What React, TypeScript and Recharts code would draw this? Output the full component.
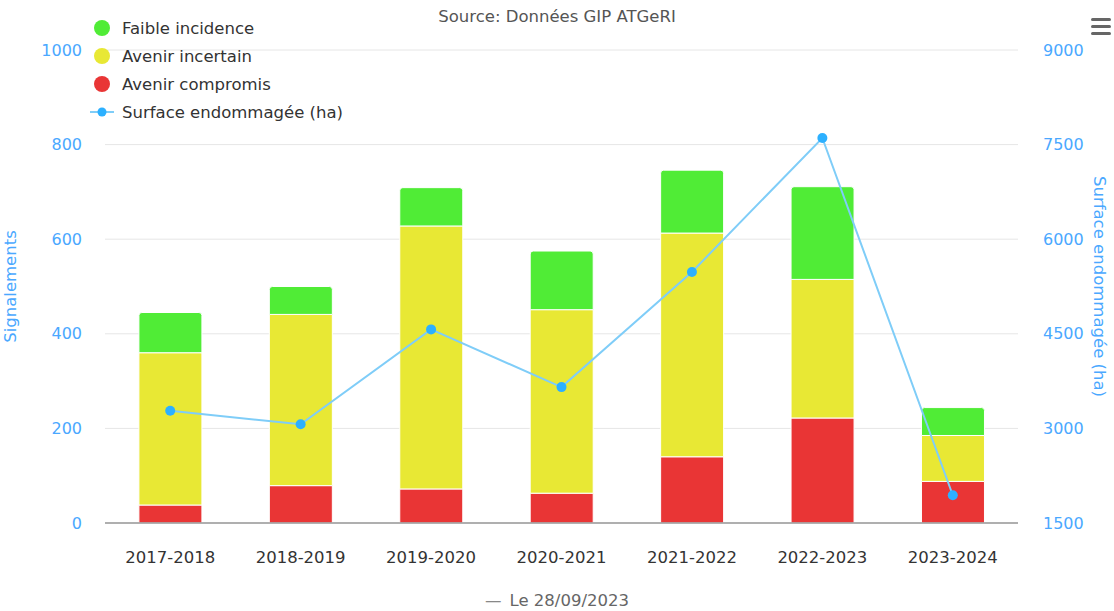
import React from 'react';
import { ComposedChart, Bar, Line, XAxis, YAxis, CartesianGrid, Legend } from 'recharts';

const categories = ['2017-2018', '2018-2019', '2019-2020', '2020-2021', '2021-2022', '2022-2023', '2023-2024'];
const compromis = [38, 79, 72, 63, 140, 222, 88];
const incertain = [322, 362, 556, 388, 473, 293, 97];
const faible = [85, 59, 81, 124, 133, 196, 59];
const surface = [3280, 3065, 4570, 3655, 5480, 7605, 1940];
const leftTicks = [0, 200, 400, 600, 800, 1000];
const rightTicks = [1500, 3000, 4500, 6000, 7500, 9000];

const title = 'Source: Données GIP ATGeRI';
const caption = 'Le 28/09/2023';

const FONT = '"DejaVu Sans", Verdana, sans-serif';
const AXIS_BLUE = '#4aa8ff';
const RED = '#e93535';
const YELLOW = '#e8e834';
const GREEN = '#50ec36';
const LINE = '#7fcdf8';
const DOT = '#2cb0ff';

const data = categories.map((c, i) => ({
  name: c,
  compromis: compromis[i],
  incertain: incertain[i],
  faible: faible[i],
  surface: surface[i],
}));

const legendItems = [
  { label: 'Faible incidence', color: GREEN, type: 'circle' },
  { label: 'Avenir incertain', color: YELLOW, type: 'circle' },
  { label: 'Avenir compromis', color: RED, type: 'circle' },
  { label: 'Surface endommagée (ha)', color: DOT, type: 'line' },
];

const renderLegend = () => (
  <div style={{ fontFamily: FONT, fontSize: 16.5, color: '#333' }}>
    {legendItems.map((it) => (
      <div key={it.label} style={{ display: 'flex', alignItems: 'center', height: 28 }}>
        <svg width={30} height={20} style={{ marginRight: 4 }}>
          {it.type === 'circle' ? (
            <circle cx={14} cy={10} r={8} fill={it.color} />
          ) : (
            <g>
              <line x1={2} y1={10} x2={26} y2={10} stroke={LINE} strokeWidth={2} />
              <circle cx={14} cy={10} r={4.5} fill={it.color} />
            </g>
          )}
        </svg>
        <span>{it.label}</span>
      </div>
    ))}
  </div>
);

export default function App() {
  return (
    <div style={{ position: 'absolute', left: 0, top: 0, width: 1114, height: 611, background: '#fff', fontFamily: FONT }}>
      <div style={{ position: 'absolute', left: 0, width: 1114, top: 7, textAlign: 'center', fontSize: 16.5, color: '#555' }}>
        {title}
      </div>
      <div style={{ position: 'absolute', left: 1091, top: 18 }}>
        {[0, 1, 2].map((k) => (
          <div key={k} style={{ width: 20, height: 3, background: '#666', borderRadius: 1.5, marginBottom: 4 }} />
        ))}
      </div>
      <div style={{ position: 'absolute', left: 0, width: 1114, top: 591, textAlign: 'center', fontSize: 16.5, color: '#666' }}>
        <span style={{ color: '#888', marginRight: 8 }}>—</span>
        {caption}
      </div>
      <ComposedChart
        width={1114}
        height={611}
        data={data}
        margin={{ top: 50, right: 0, bottom: 48, left: 0 }}
        barCategoryGap="26%"
        style={{ position: 'absolute', left: 0, top: 0 }}
      >
        <CartesianGrid yAxisId="left" vertical={false} stroke="#e6e6e6" strokeWidth={1} />
        <XAxis
          dataKey="name"
          height={40}
          tickLine={false}
          axisLine={{ stroke: '#999', strokeWidth: 1.5 }}
          tick={{ fill: '#333', fontSize: 16.5, fontFamily: FONT }}
          tickMargin={22}
        />
        <YAxis
          yAxisId="left"
          width={105}
          domain={[0, 1000]}
          ticks={leftTicks}
          interval={0}
          axisLine={false}
          tickLine={false}
          tickMargin={17}
          tick={{ fill: AXIS_BLUE, fontSize: 16, fontFamily: FONT }}
          label={{ value: 'Signalements', angle: -90, position: 'insideLeft', offset: 10, fill: AXIS_BLUE, fontSize: 16.5, fontFamily: FONT, style: { textAnchor: 'middle' } }}
        />
        <YAxis
          yAxisId="right"
          orientation="right"
          width={96}
          domain={[1500, 9000]}
          ticks={rightTicks}
          interval={0}
          axisLine={false}
          tickLine={false}
          tickMargin={19}
          tick={{ fill: AXIS_BLUE, fontSize: 16, fontFamily: FONT, textAnchor: 'start' }}
          label={{ value: 'Surface endommagée (ha)', angle: 90, position: 'insideRight', offset: 14, fill: AXIS_BLUE, fontSize: 16.5, fontFamily: FONT, style: { textAnchor: 'middle' } }}
        />
        <Legend
          layout="vertical"
          align="center"
          verticalAlign="middle"
          content={renderLegend}
          wrapperStyle={{ left: 88, top: 14, width: 'auto', height: 'auto' }}
        />
        <Bar yAxisId="left" dataKey="compromis" name="Avenir compromis" stackId="a" fill={RED} stroke="#fff" strokeWidth={1} isAnimationActive={false} />
        <Bar yAxisId="left" dataKey="incertain" name="Avenir incertain" stackId="a" fill={YELLOW} stroke="#fff" strokeWidth={1} isAnimationActive={false} />
        <Bar yAxisId="left" dataKey="faible" name="Faible incidence" stackId="a" fill={GREEN} stroke="#fff" strokeWidth={1} radius={[3, 3, 0, 0]} isAnimationActive={false} />
        <Line
          yAxisId="right"
          dataKey="surface"
          name="Surface endommagée (ha)"
          type="linear"
          stroke={LINE}
          strokeWidth={2}
          dot={{ r: 5, fill: DOT, stroke: DOT, strokeWidth: 0 }}
          activeDot={false}
          isAnimationActive={false}
        />
      </ComposedChart>
    </div>
  );
}
